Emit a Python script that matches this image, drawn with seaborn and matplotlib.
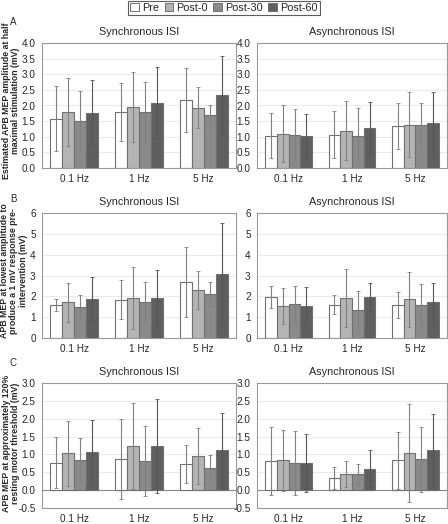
import matplotlib
matplotlib.use("Agg")
import matplotlib.pyplot as plt
import numpy as np
import pandas as pd
import seaborn as sns
from matplotlib.patches import Patch

FREQS = ["0.1 Hz", "1 Hz", "5 Hz"]
TIMES = ["Pre", "Post-0", "Post-30", "Post-60"]
COLORS = ["#ffffff", "#b4b4b4", "#8a8a8a", "#5f5f5f"]

# rows = frequency, columns = time point (Pre, Post-0, Post-30, Post-60)
A_SYNC_MEAN = [[1.58, 1.79, 1.51, 1.77], [1.79, 1.95, 1.78, 2.09], [2.17, 1.93, 1.70, 2.33]]
A_SYNC_SD = [[1.03, 1.09, 0.94, 1.03], [0.92, 1.12, 0.98, 1.15], [1.02, 0.65, 0.30, 1.25]]
A_ASYNC_MEAN = [[1.04, 1.10, 1.05, 1.02], [1.07, 1.20, 1.04, 1.28], [1.34, 1.39, 1.36, 1.43]]
A_ASYNC_SD = [[0.71, 0.91, 0.83, 0.72], [0.74, 0.95, 0.87, 0.84], [0.73, 1.03, 0.71, 1.00]]

B_SYNC_MEAN = [[1.59, 1.72, 1.50, 1.88], [1.83, 1.93, 1.73, 1.93], [2.70, 2.29, 2.11, 3.09]]
B_SYNC_SD = [[0.29, 0.94, 0.55, 1.07], [0.94, 1.49, 0.96, 1.33], [1.69, 0.91, 0.59, 2.43]]
B_ASYNC_MEAN = [[1.95, 1.55, 1.62, 1.55], [1.60, 1.91, 1.34, 1.96], [1.60, 1.85, 1.60, 1.74]]
B_ASYNC_SD = [[0.53, 0.87, 0.87, 0.90], [0.46, 1.40, 0.91, 0.68], [0.62, 1.30, 1.00, 0.88]]

C_SYNC_MEAN = [[0.77, 1.03, 0.84, 1.07], [0.87, 1.23, 0.81, 1.24], [0.72, 0.96, 0.63, 1.12]]
C_SYNC_SD = [[0.71, 0.91, 0.62, 0.90], [1.13, 1.21, 0.98, 1.31], [0.53, 0.78, 0.36, 1.05]]
C_ASYNC_MEAN = [[0.81, 0.83, 0.75, 0.76], [0.34, 0.45, 0.44, 0.60], [0.83, 1.05, 0.86, 1.12]]
C_ASYNC_SD = [[0.96, 0.85, 0.90, 0.80], [0.30, 0.37, 0.28, 0.52], [0.81, 1.37, 0.90, 1.00]]

ROW_LABELS = [
    ["Estimated APB MEP amplitude at half", "maximal stimulation (mV)"],
    ["APB MEP at lowest amplitude to", "produce a 1 mV response pre-", "intervention (mV)"],
    ["APB MEP at approximately 120%", "resting motor threshold (mV)"],
]
ROW_LETTERS = ["A", "B", "C"]
ROW_YLIMS = [(0, 4.0), (0, 6), (-0.5, 3.0)]
ROW_YTICKS = [np.arange(0, 4.01, 0.5), np.arange(0, 7, 1), np.arange(-0.5, 3.01, 0.5)]
ROW_FMT = ["{:.1f}", "{:.0f}", "{:.1f}"]
PANELS = [
    [(A_SYNC_MEAN, A_SYNC_SD), (A_ASYNC_MEAN, A_ASYNC_SD)],
    [(B_SYNC_MEAN, B_SYNC_SD), (B_ASYNC_MEAN, B_ASYNC_SD)],
    [(C_SYNC_MEAN, C_SYNC_SD), (C_ASYNC_MEAN, C_ASYNC_SD)],
]
COL_TITLES = ["Synchronous ISI", "Asynchronous ISI"]

sns.set_style("white")
plt.rcParams["font.family"] = ["Liberation Sans", "DejaVu Sans"]

EDGE = "#707070"
W, H = 448, 524
fig = plt.figure(figsize=(W / 100, H / 100), dpi=100)

row_tops = [43, 213, 383]
letter_y = [22, 199, 363]
label_xy = [(11, 101), (14, 271), (11, 443)]
line_gap = 9
col_x = [(42, 236), (257, 447)]
ax_h = 125


def to_frame(means, sds):
    rows = []
    for fi, f in enumerate(FREQS):
        for ti, t in enumerate(TIMES):
            rows.append({"freq": f, "time": t, "mean": means[fi][ti], "sd": sds[fi][ti]})
    return pd.DataFrame(rows)


for r in range(3):
    for c in range(2):
        x0, x1 = col_x[c]
        top = row_tops[r]
        ax = fig.add_axes([x0 / W, 1 - (top + ax_h) / H, (x1 - x0) / W, ax_h / H])
        df = to_frame(*PANELS[r][c])
        sns.barplot(
            data=df, x="freq", y="mean", hue="time", order=FREQS, hue_order=TIMES,
            palette=COLORS, errorbar=None, width=0.74, edgecolor=EDGE, linewidth=0.8,
            legend=False, ax=ax, zorder=2,
        )
        bar_containers = list(ax.containers)
        for ti, cont in enumerate(bar_containers):
            sub = df[df["time"] == TIMES[ti]].set_index("freq").loc[FREQS]
            xs = [p.get_x() + p.get_width() / 2 for p in cont]
            ax.errorbar(xs, sub["mean"], yerr=sub["sd"], fmt="none",
                        ecolor="#555555" if ti == 3 else "#808080",
                        elinewidth=0.8, capsize=1.5, capthick=0.6, zorder=3)
        ax.set_xlim(-0.5, 2.5)
        ax.set_ylim(*ROW_YLIMS[r])
        ax.set_yticks(ROW_YTICKS[r])
        ax.set_yticklabels([ROW_FMT[r].format(v) for v in ROW_YTICKS[r]])
        ax.yaxis.grid(True, color="#e6e6e6", linewidth=0.6, zorder=0)
        ax.set_axisbelow(True)
        if ROW_YLIMS[r][0] < 0:
            ax.axhline(0, color="#888888", linewidth=0.8, zorder=1)
        for s in ax.spines.values():
            s.set_color("#999999")
            s.set_linewidth(0.8)
        ax.tick_params(axis="both", labelsize=7.2, length=2.5, color="#999999", pad=2)
        ax.tick_params(axis="x", length=0, pad=4)
        ax.set_xlabel("")
        ax.set_ylabel("")
        ax.set_title(COL_TITLES[c], fontsize=7.8, pad=6)
    # row y label: one rotated text per line, centred on the row like the original
    lx, ly = label_xy[r]
    lines = ROW_LABELS[r]
    for li, line in enumerate(lines):
        x = lx + (li - (len(lines) - 1) / 2) * line_gap
        fig.text(x / W, 1 - ly / H, line, rotation=90, fontsize=6.3,
                 fontweight="bold", ha="center", va="center")
    fig.text(13 / W, 1 - letter_y[r] / H, ROW_LETTERS[r], fontsize=7, va="center", ha="center")

handles = [Patch(facecolor=col, edgecolor=EDGE, linewidth=0.7) for col in COLORS]
leg = fig.legend(handles, TIMES, loc="center", bbox_to_anchor=(0.5, 1 - 8 / H), ncol=4,
                 fontsize=7.8, frameon=True, fancybox=False, handlelength=0.8,
                 handleheight=0.8, handletextpad=0.3, columnspacing=0.5,
                 borderpad=0.2, borderaxespad=0)
leg.get_frame().set_edgecolor("#333333")
leg.get_frame().set_linewidth(0.8)

fig.savefig("out.png", dpi=100)
